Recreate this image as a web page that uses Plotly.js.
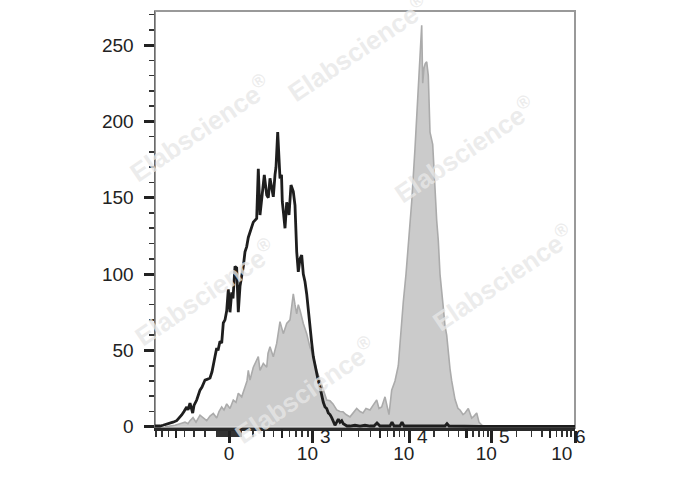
<!DOCTYPE html>
<html>
<head>
<meta charset="utf-8">
<script src="https://cdn.plot.ly/plotly-3.0.1.min.js"></script>
<style>html,body{margin:0;padding:0;background:#fff;}#chart{width:688px;height:490px;}</style>
</head>
<body>
<div id="chart"></div>
<script>
// ---- Data (x in display-scale units of the biexponential axis, y = event counts) ----
const blackX = [0,2,5,8,11,15,18,21.7,24,26.7,29,31.7,33,35,37.7,39,41.7,43,45,47,50,52,55,57,58.3,60,61.7,63,65,66.7,68.3,70,71.7,73.3,75,76.7,78,80,81.7,83.3,85,86.7,88.3,90,91.7,93.3,95,97,98.3,101.7,103.3,105,106.7,108.3,109.3,111.7,113.3,115,116.7,118.3,120,121,122.7,125,126.5,127.3,128.5,130,131.7,133.3,134,136,138.3,140,141.7,143.3,145,146.7,148.3,150,151.7,153.3,155,156.7,158.3,160,161.7,163.3,165,166.7,168.3,170,171.7,173.3,175,176.7,178.3,180,181.7,183.3,185,186.7,188.3,190,192,195,200,205,210,215,219,222,225,235,237,239,245,247,249,265,290,292,294,325,365,420];
const blackY = [0.5,0.3,0.5,1,1.5,2,3,4,5.5,7.7,10,13,11,15.5,9,14,17.5,20,24,26,30.6,31,32,36,41.7,46,51.5,50,56,54.8,68,70,76,90,75,88,84,105,104,75,92,98,105,114.6,118,124,127.7,131,134,136.5,169,138.7,150,158,165,151.8,150,162.7,156,150.6,165,170,193,162.7,165,147.4,140,130,147,143,138.7,158.3,154,145,114.6,101.5,110,112.5,100,95,87,75,64,55,46,40,35,30,26,20,16,13,12,9,8,6,4,1,3,5,3,4,2,1.5,0.5,0.5,1,0.5,1,0.5,0.5,2.5,0.5,0.5,3,0.5,0.5,3,0.5,0.5,0.5,2,0.5,0.3,0.3,0.3];

const grayX = [10,15,20,25,30,33,35,38,41,45,48,51.7,55,58.3,61.7,64,66.7,69,71.7,75,78.3,81,83.3,86.7,90,92,93.3,95,98.3,101.7,103.3,105,108.3,111.7,113,115,118.3,121.7,125,128.3,131.7,135,136.7,138.3,140,141.7,143.3,145,148.3,151.7,155,158.3,161.7,165,168.3,171.7,175,178,181.7,185,188,191,195,198,201.7,205,208,211,215,218,221.7,224,226.7,230,232,234,236.7,240,243.3,245,248.3,251,253.3,256.7,260,261.7,263.3,265,266.7,267.7,269,270.3,271.7,273.3,275,277.7,280,281.7,283.3,285,288.3,290,291.7,293.3,295,296.7,300,303,305,308,310,313.3,316.7,319,321.7,324,327,331,420];
const grayY = [0,0.5,1,2,3,2,4,6,3,7.6,6,4,7,8.7,5.7,10,13,11,15,12,17.5,16,22,19.6,26,30,37,30.6,39,43.7,45.9,37,41.5,39,48,52.4,45.9,54.6,68.8,61,67.7,70,78,87,80,74,80,76.4,67.7,61,52,46,37,30.6,24,17.5,17,15,11,10,9.8,8,6.5,9,12,10,9,12,11,14,17.5,12,13,19.6,14,8,24,30,40,55.7,81.9,100,116.9,147.4,182.3,204,226,250,263,225,235,238,239,230,193,185,150,135,122,100,78,66,60,48,38,30,18,12,11,8,9,12,5.7,7,9,3,1,0,0];

// Axis tick definitions (fluorescence intensity values)
const majorTickValues = [0, 1e3, 1e4, 1e5, 1e6];
const majorTickLabels = ["0", "10&nbsp;&nbsp;", "10&nbsp;&nbsp;", "10&nbsp;&nbsp;", "10&nbsp;&nbsp;&nbsp;&nbsp;&nbsp;"];
const decadeExponents = ["3", "4", "5", "6"];
const mediumTickValues = [-500, 500, 5e3, 5e4, 5e5];
const minorTickValues = [-900,-800,-700,-600,-400,-300,-200,-100,-90,-80,-70,-60,-50,-40,-30,-20,-10,10,20,30,40,50,60,70,80,90,100,200,300,400,600,700,800,900,
  2e3,3e3,4e3,6e3,7e3,8e3,9e3,2e4,3e4,4e4,6e4,7e4,8e4,9e4,2e5,3e5,4e5,6e5,7e5,8e5,9e5];
const yTickValues = [0, 50, 100, 150, 200, 250];
const yTickLabels = ["0", "50", "100", "150", "200", "250"];
const watermarkText = 'Elabscience<sup>®</sup>';

// Biexponential display transform (intensity -> display-scale units)
function toScale(v) {
  const zero = 74, B = 410;
  const K = 83.7 / Math.asinh(1000 / B);
  if (Math.abs(v) <= 1000) return zero + Math.sign(v) * K * Math.asinh(Math.abs(v) / B);
  const anchors = [[3, 157.7], [4, 254], [5, 336.5], [6, 420]];
  const L = Math.log10(v);
  for (let i = 0; i < anchors.length - 1; i++) {
    const a = anchors[i], b = anchors[i + 1];
    if (L <= b[0] || i === anchors.length - 2) {
      return a[1] + (L - a[0]) * (b[1] - a[1]) / (b[0] - a[0]);
    }
  }
}

const xRange = [0, 420];
const fontFam = "'Liberation Sans', Arial, sans-serif";

const traces = [
  {x: grayX, y: grayY, type: 'scatter', mode: 'lines', fill: 'tozeroy',
   fillcolor: '#cbcbcb', line: {color: '#ababab', width: 1.6}, hoverinfo: 'skip'},
  {x: blackX, y: blackY, type: 'scatter', mode: 'lines',
   line: {color: '#1e1e1e', width: 2.8}, hoverinfo: 'skip'},
  {x: [], y: [], xaxis: 'x2', type: 'scatter', mode: 'lines', showlegend: false}
];

const wm = [[0.483,0.911],[0.107,0.719],[0.738,0.667],[0.829,0.360],[0.119,0.326],[0.357,0.091]];
const annotations = wm.map(p => ({
  xref: 'paper', yref: 'paper', x: p[0], y: p[1], xanchor: 'center', yanchor: 'middle',
  showarrow: false, text: watermarkText, textangle: -34,
  font: {family: fontFam, size: 26, color: 'rgba(231,231,231,0.8)', weight: 'bold'}
}));
// full-size superscript exponents of the decade labels
const expShift = [13, 13, 13, 5];
decadeExponents.forEach((e, i) => {
  annotations.push({
    xref: 'x', yref: 'paper', x: toScale(majorTickValues[i + 1]), y: -0.02,
    xshift: expShift[i], xanchor: 'center', yanchor: 'middle', showarrow: false,
    text: e, font: {family: fontFam, size: 19, color: '#222'}
  });
});

const layout = {
  width: 688, height: 490,
  margin: {l: 155, r: 113, t: 11, b: 62},
  paper_bgcolor: '#fff', plot_bgcolor: '#fff',
  showlegend: false,
  font: {family: fontFam, color: '#222', size: 19},
  xaxis: {
    range: xRange, autorange: false, showgrid: false, zeroline: false,
    showline: true, linecolor: '#2a2a2a', linewidth: 2.5,
    tickmode: 'array', tickvals: majorTickValues.map(toScale), ticktext: majorTickLabels,
    ticks: 'outside', ticklen: 12, tickwidth: 3, tickcolor: '#222',
    ticklabelstandoff: -5,
    tickfont: {family: fontFam, size: 19, color: '#222'},
    minor: {tickmode: 'array', tickvals: minorTickValues.map(toScale), ticks: 'outside',
            ticklen: 6, tickwidth: 1.6, tickcolor: '#333', showgrid: false}
  },
  xaxis2: {
    overlaying: 'x', anchor: 'y', side: 'bottom',
    range: xRange, autorange: false, showgrid: false, zeroline: false, showline: false,
    tickmode: 'array', tickvals: mediumTickValues.map(toScale), showticklabels: false,
    ticks: 'outside', ticklen: 9, tickwidth: 2.4, tickcolor: '#222'
  },
  yaxis: {
    range: [-0.8, 272.3], autorange: false, showgrid: false, zeroline: false,
    showline: true, linecolor: '#6a6a6a', linewidth: 1.5,
    tickmode: 'array', tickvals: yTickValues, ticktext: yTickLabels,
    ticks: 'outside', ticklen: 10, tickwidth: 3, tickcolor: '#222',
    ticklabelstandoff: 6,
    tickfont: {family: fontFam, size: 19, color: '#222'},
    minor: {dtick: 10, tick0: 0, ticks: 'outside', ticklen: 5, tickwidth: 1.6, tickcolor: '#333', showgrid: false}
  },
  shapes: [{type: 'rect', xref: 'paper', yref: 'paper', x0: 0, x1: 1, y0: 0, y1: 1,
            line: {color: '#999', width: 2}, layer: 'below'}],
  annotations: annotations
};

Plotly.newPlot('chart', traces, layout, {staticPlot: true, displayModeBar: false});
</script>
</body>
</html>
